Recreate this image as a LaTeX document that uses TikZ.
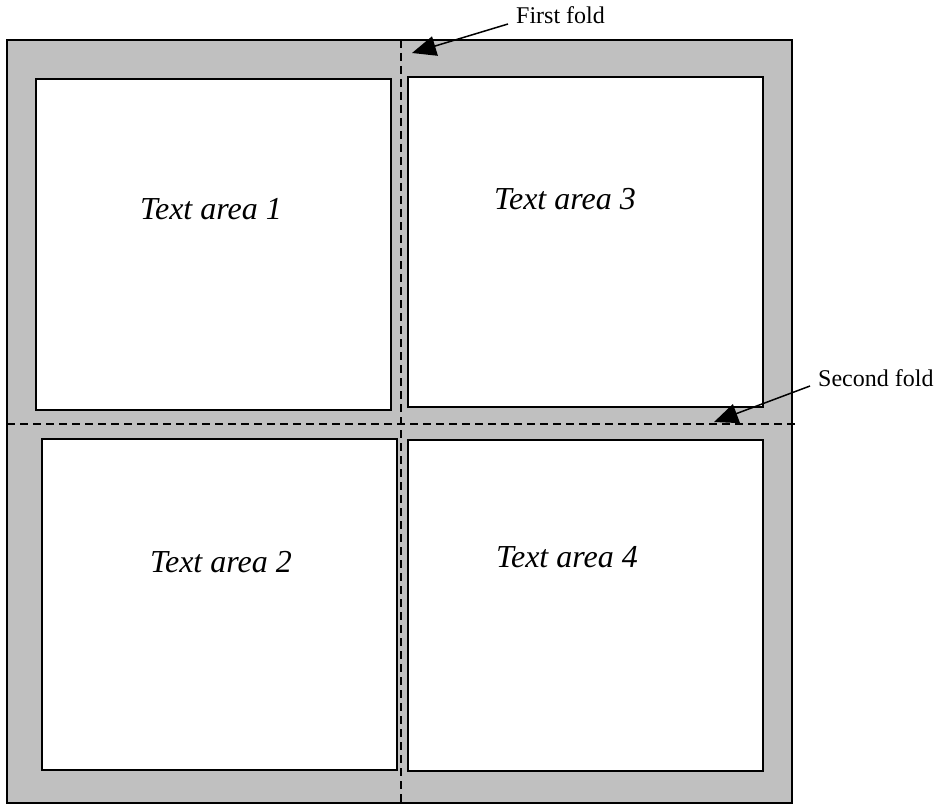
\documentclass[tikz,border=0pt]{standalone}
\usepackage{fontspec}
\setmainfont{Liberation Serif}
\usetikzlibrary{arrows.meta}
\definecolor{margingray}{RGB}{192,192,192}
\tikzset{
  textbox/.style={draw, line width=1.5pt, fill=white},
  foldline/.style={line width=1.3pt, dash pattern=on 8pt off 5pt},
  arealabel/.style={anchor=base, font=\fontsize{32}{38}\selectfont\itshape},
  foldlabel/.style={anchor=base west, inner sep=8pt, font=\fontsize{24}{28}\selectfont},
  pointer/.style={line width=1.5pt, -{Triangle[length=24pt,width=20pt]}}
}

\begin{document}
\begin{tikzpicture}[x=1pt,y=-1pt]
  \useasboundingbox (0,0) rectangle (939,805);

  % Sheet with margins
  \draw[line width=1.6pt, fill=margingray] (7,40) rectangle (792,803);

  % The four text areas
  \draw[textbox] (36,79) rectangle (391,410);
  \draw[textbox] (42,439) rectangle (397,770);
  \draw[textbox] (408,77) rectangle (763,407);
  \draw[textbox] (408,440) rectangle (763,771);

  \node[arealabel] (area1) at (211,219) {Text area 1};
  \node[arealabel] (area2) at (221,572) {Text area 2};
  \node[arealabel] (area3) at (565,210) {Text area 3};
  \node[arealabel] (area4) at (567,567) {Text area 4};

  % Fold lines
  \draw[foldline] (401,40) -- (401,802);
  \draw[foldline] (7,424) -- (795,424);

  % Pointers to the folds
  \node[foldlabel] (firstfold) at (508,24) {First fold};
  \coordinate (firsttip) at (412,53);
  \draw[pointer] (firstfold.base west) -- (firsttip);

  \node[foldlabel] (secondfold) at (810,386) {Second fold};
  \coordinate (secondtip) at (714,422);
  \draw[pointer] (secondfold.base west) -- (secondtip);
\end{tikzpicture}
\end{document}
